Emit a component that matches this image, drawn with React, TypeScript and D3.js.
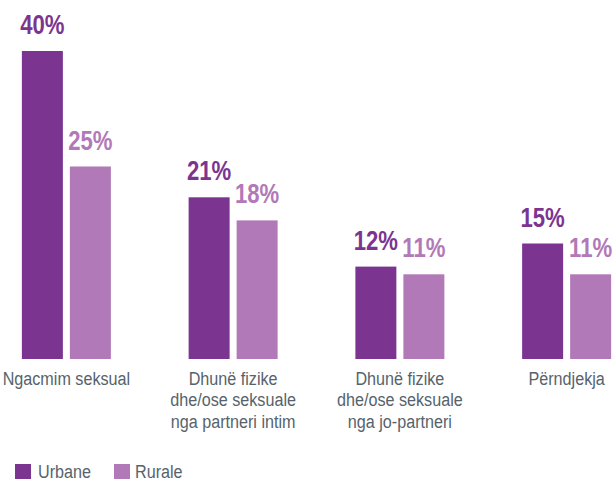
import * as d3 from 'd3'

const categories = ['Ngacmim seksual', 'Dhunë fizike\ndhe/ose seksuale\nnga partneri intim', 'Dhunë fizike\ndhe/ose seksuale\nnga jo-partneri', 'Përndjekja']
const seriesNames = ['Urbane', 'Rurale']
const urbane = [40, 21, 12, 15]
const rurale = [25, 18, 11, 11]
const colors = ['#7b3591', '#b179b7']

const W = 614
const H = 479
const font = "'Liberation Sans', Arial, sans-serif"
const narrow = 0.82
const narrowLabel = 0.85

export default function App() {
  const x0 = d3.scaleBand<string>().domain(categories).range([-17, 650])
  const x1 = d3.scaleBand<string>().domain(seriesNames).range([0, 89]).paddingInner(7 / 48)
  const y = d3.scaleLinear().domain([0, 40]).range([359, 51])

  const values = [urbane, rurale]

  return (
    <svg width={W} height={H} style={{ position: 'absolute', left: 0, top: 0 }} fontFamily={font}>
      {categories.map((c, i) => {
        const cx = (x0(c) as number) + x0.bandwidth() / 2
        const left = cx - 44.5
        return (
          <g key={c}>
            {seriesNames.map((s, j) => {
              const v = values[j][i]
              const bx = left + (x1(s) as number)
              return (
                <g key={s}>
                  <rect x={bx} y={y(v)} width={x1.bandwidth()} height={y(0) - y(v)} fill={colors[j]} />
                  <text transform={`translate(${bx + x1.bandwidth() / 2},${y(v) - 17}) scale(${narrow},1)`}
                    textAnchor="middle" fontSize={27} fontWeight="bold" fill={colors[j]}>{v}%</text>
                </g>
              )
            })}
            <text transform={`translate(${cx},385) scale(${narrowLabel},1)`} textAnchor="middle" fontSize={19} fill="#56636c">
              {c.split('\n').map((line, k) => (
                <tspan key={k} x={0} dy={k === 0 ? 0 : 21.5}>{line}</tspan>
              ))}
            </text>
          </g>
        )
      })}
      {seriesNames.map((s, j) => (
        <g key={s} transform={`translate(${j === 0 ? 15 : 114},464)`}>
          <rect width={16} height={16} fill={colors[j]} />
          <text transform={`translate(${j === 0 ? 23 : 21},14) scale(${narrowLabel},1)`} fontSize={19} fill="#56636c">{s}</text>
        </g>
      ))}
    </svg>
  )
}
